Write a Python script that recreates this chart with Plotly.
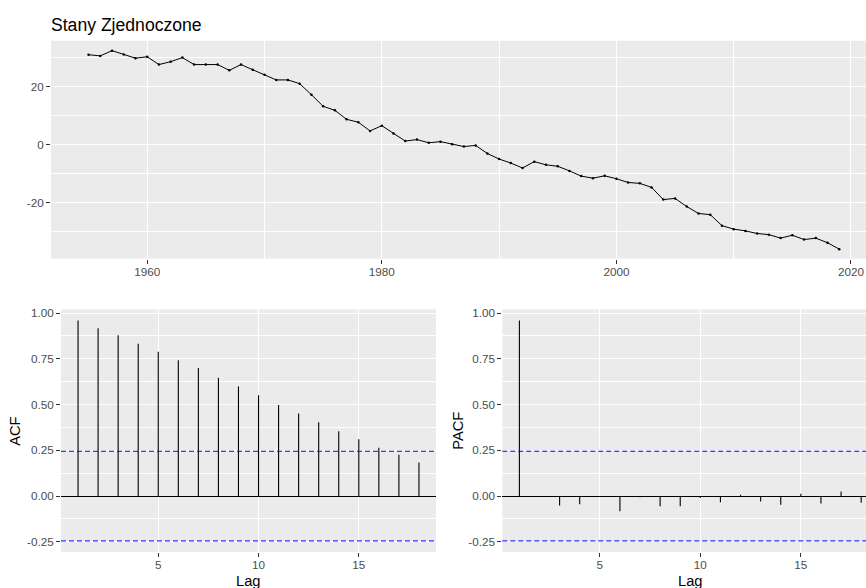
import plotly.graph_objects as go

# ---------------- data ----------------
years = list(range(1955, 2020))
values = [31.1, 30.7, 32.5, 31.2, 29.9, 30.4, 27.7, 28.7, 30.1, 27.7,
          27.7, 27.7, 25.7, 27.7, 25.9, 24.2, 22.4, 22.4, 21.1, 17.3,
          13.3, 11.9, 8.8, 7.8, 4.8, 6.6, 3.9, 1.3, 1.8, 0.7,
          1.1, 0.2, -0.6, -0.2, -3.0, -4.9, -6.3, -8.0, -5.8, -6.9,
          -7.4, -9.0, -10.8, -11.5, -10.7, -11.7, -13.0, -13.3, -14.7, -18.9,
          -18.5, -21.3, -23.7, -24.1, -27.9, -29.1, -29.7, -30.6, -31.0, -32.2,
          -31.2, -32.7, -32.2, -33.8, -36.0]

lags = list(range(1, 19))
acf_vals = [0.960, 0.917, 0.879, 0.832, 0.789, 0.742, 0.700, 0.646, 0.599,
            0.551, 0.498, 0.451, 0.403, 0.354, 0.310, 0.264, 0.226, 0.184]
pacf_vals = [0.960, -0.004, -0.051, -0.045, -0.002, -0.083, -0.007, -0.056, -0.056,
             -0.011, -0.034, 0.007, -0.029, -0.047, 0.013, -0.040, 0.025, -0.036]
ci = 0.245

title_text = "Stany Zjednoczone"
year_ticks = [1960, 1980, 2000, 2020]
year_ticklabels = ["1960", "1980", "2000", "2020"]
val_ticks = [-20, 0, 20]
val_ticklabels = ["-20", "0", "20"]
acf_ticks = [-0.25, 0, 0.25, 0.5, 0.75, 1.0]
acf_ticklabels = ["-0.25", "0.00", "0.25", "0.50", "0.75", "1.00"]
lag_ticks = [5, 10, 15]
lag_ticklabels = ["5", "10", "15"]

# ---------------- figure ----------------
W, H = 866, 588
FONT = "Liberation Sans, Arial, sans-serif"
BG = "#EBEBEB"
TICKC = "#4D4D4D"


def px_x(p):
    return p / W


def px_y(p):
    return (H - p) / H


def stems(xs, ys):
    sx, sy = [], []
    for a, b in zip(xs, ys):
        sx += [a, a, None]
        sy += [0, b, None]
    return sx, sy


fig = go.Figure()

fig.add_trace(go.Scatter(x=years, y=values, mode="lines+markers",
                         line=dict(color="black", width=1),
                         marker=dict(color="black", size=2.5),
                         xaxis="x", yaxis="y", showlegend=False))

ax, ay = stems(lags, acf_vals)
fig.add_trace(go.Scatter(x=ax, y=ay, mode="lines", line=dict(color="black", width=1.1),
                         xaxis="x2", yaxis="y2", showlegend=False))
px_, py_ = stems(lags, pacf_vals)
fig.add_trace(go.Scatter(x=px_, y=py_, mode="lines", line=dict(color="black", width=1.1),
                         xaxis="x3", yaxis="y3", showlegend=False))

# CI lines
for xr, yr in (("x2", "y2"), ("x3", "y3")):
    for v in (ci, -ci):
        fig.add_shape(type="line", xref=f"{xr} domain", yref=yr, x0=0, x1=1, y0=v, y1=v,
                      line=dict(color="#0000FF", width=1, dash="5px,3px"))

tickfont = dict(family=FONT, size=11.7, color=TICKC)
common = dict(showgrid=True, gridcolor="white", gridwidth=1.1, ticks="outside",
              ticklen=4, tickcolor="#333333", tickwidth=1, tickfont=tickfont,
              showline=False, tickmode="array")

fig.update_layout(
    width=W, height=H,
    margin=dict(l=0, r=0, t=0, b=0),
    paper_bgcolor="white", plot_bgcolor=BG,
    showlegend=False,
    font=dict(family=FONT),
    xaxis=dict(domain=[px_x(51), 1.0], range=[1951.8, 2021.28], anchor="y",
               tickvals=year_ticks, ticktext=year_ticklabels, zeroline=False,
               ticklabelstandoff=-2,
               minor=dict(tickvals=[1950, 1970, 1990, 2010], showgrid=True,
                          gridcolor="white", gridwidth=0.55),
               **common),
    yaxis=dict(domain=[px_y(257), px_y(38)], range=[-39.3, 35.9], anchor="x",
               tickvals=val_ticks, ticktext=val_ticklabels, zeroline=False,
               minor=dict(tickvals=[-30, -10, 10, 30], showgrid=True,
                          gridcolor="white", gridwidth=0.55),
               **common),
    xaxis2=dict(domain=[px_x(61), px_x(436)], range=[0.15, 18.85], anchor="y2",
                tickvals=lag_ticks, ticktext=lag_ticklabels, zeroline=False,
                ticklabelstandoff=-2, **common),
    yaxis2=dict(domain=[px_y(551.7), px_y(308)], range=[-0.305, 1.02], anchor="x2",
                tickvals=acf_ticks, ticktext=acf_ticklabels,
                zeroline=True, zerolinecolor="black", zerolinewidth=1.1,
                minor=dict(tickvals=[-0.125, 0.125, 0.375, 0.625, 0.875], showgrid=True,
                           gridcolor="white", gridwidth=0.55),
                **common),
    xaxis3=dict(domain=[px_x(502.3), 1.0], range=[0.15, 18.24], anchor="y3",
                tickvals=lag_ticks, ticktext=lag_ticklabels, zeroline=False,
                ticklabelstandoff=-2, **common),
    yaxis3=dict(domain=[px_y(551.7), px_y(308)], range=[-0.305, 1.02], anchor="x3",
                tickvals=acf_ticks, ticktext=acf_ticklabels,
                zeroline=True, zerolinecolor="black", zerolinewidth=1.1,
                minor=dict(tickvals=[-0.125, 0.125, 0.375, 0.625, 0.875], showgrid=True,
                           gridcolor="white", gridwidth=0.55),
                **common),
)

axfont = dict(family=FONT, size=14.7, color="black")
fig.add_annotation(text=title_text, xref="paper", yref="paper", x=px_x(49), y=px_y(22),
                   xanchor="left", yanchor="middle", showarrow=False,
                   font=dict(family=FONT, size=17.6, color="black"))
fig.add_annotation(text="ACF", xref="paper", yref="paper", x=px_x(15), y=px_y(430),
                   textangle=-90, xanchor="center", yanchor="middle", showarrow=False, font=axfont)
fig.add_annotation(text="PACF", xref="paper", yref="paper", x=px_x(458), y=px_y(430),
                   textangle=-90, xanchor="center", yanchor="middle", showarrow=False, font=axfont)
fig.add_annotation(text="Lag", xref="paper", yref="paper", x=px_x(248.5), y=px_y(581),
                   xanchor="center", yanchor="middle", showarrow=False, font=axfont)
fig.add_annotation(text="Lag", xref="paper", yref="paper", x=px_x(690), y=px_y(581),
                   xanchor="center", yanchor="middle", showarrow=False, font=axfont)

fig.write_html("out.html")
